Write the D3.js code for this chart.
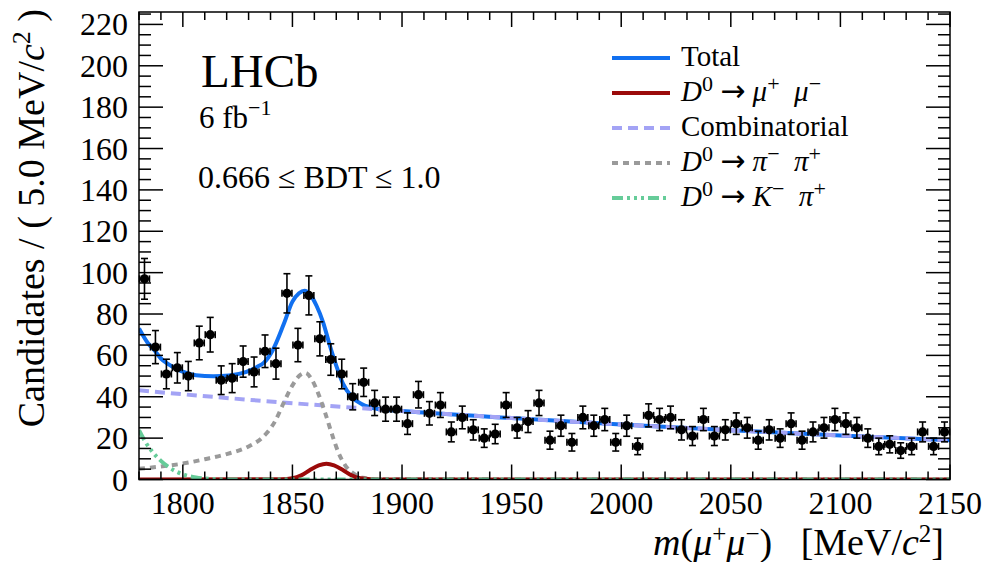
<!DOCTYPE html>
<html lang="en">
<head>
  <meta charset="UTF-8">
  <title>D0 to mu mu mass fit</title>
  <script src="https://d3js.org/d3.v7.min.js"></script>
  <style>
    body { margin: 0; background: #fff; }
    svg { display: block; font-family: "Liberation Serif", "DejaVu Serif", serif; }
    .tick-label { font-size: 32px; fill: #000; }
    .axis-title { font-size: 38px; fill: #000; }
    .legend text { font-size: 29px; fill: #000; }
  </style>
</head>
<body>
  <svg id="chart" width="985" height="562"></svg>
  <script>
    // binned data: 5 MeV bins from 1780 to 2150, bin centres 1782.5 ... 2147.5
    const binLow = 1780, binWidth = 5;
    const counts = [
      97, 64, 51, 54, 50, 66, 70, 48, 49, 57,
      52, 62, 56, 90, 65, 89, 68, 58, 51, 40,
      47, 37, 34, 34, 27, 41, 32, 36, 23, 30,
      24, 20, 22, 36, 25, 28, 37, 19, 26, 18,
      30, 26, 29, 18, 26, 16, 31, 29, 30, 24,
      21, 29, 21, 24, 27, 25, 19, 24, 20, 27,
      19, 23, 25, 29, 27, 25, 20, 16, 17, 14,
      16, 23, 16, 23
    ];

    // fit curves, sampled off the plot
    const totalMass = [1780, 1784, 1787, 1790, 1793, 1799, 1806, 1814, 1821, 1829, 1834, 1837, 1841, 1846, 1850, 1853, 1855.5, 1858, 1861, 1864, 1867, 1870, 1873, 1877, 1882, 1888, 1895, 1900, 1950, 2000, 2050, 2100, 2150];
    const totalVal  = [73, 66, 62.5, 58.5, 56, 52.5, 50.4, 49.9, 50.3, 52, 54.5, 56.5, 62.5, 75, 86, 90, 91.3, 89.5, 84, 76, 65, 55, 46.5, 40, 36.2, 34.3, 33.5, 33.1, 29.7, 26.6, 23.8, 21.3, 19.0];

    const combMass = [1780, 1800, 1850, 1900, 1950, 2000, 2050, 2100, 2150];
    const combVal  = [43.1, 41.2, 36.9, 33.1, 29.7, 26.6, 23.8, 21.3, 19.0];

    const pipiMass = [1780, 1790, 1800, 1810, 1820, 1830, 1836, 1842, 1846, 1850, 1853, 1856, 1859, 1862, 1865, 1868, 1871, 1874, 1878, 1882, 1890, 2150];
    const pipiVal  = [5.2, 6.3, 7.7, 9.8, 12.3, 16, 20, 28, 37, 45.5, 50, 51.5, 48, 41, 32, 22, 13, 7, 2.8, 0.8, 0.1, 0];

    const mumuMass = [1780, 1845, 1850, 1854, 1858, 1862, 1865.5, 1869, 1873, 1877, 1881, 1886, 1890, 2150];
    const mumuVal  = [0, 0.1, 0.6, 2.0, 4.6, 6.8, 7.6, 6.8, 4.6, 2.0, 0.6, 0.1, 0, 0];

    const kpiMass = [1780, 1783, 1786, 1790, 1795, 1800, 1806, 1812, 1820, 2150];
    const kpiVal  = [23.8, 18, 13.5, 9, 5, 2.5, 1, 0.3, 0, 0];

    const xMajor = [1800, 1850, 1900, 1950, 2000, 2050, 2100, 2150];
    const yMajor = [0, 20, 40, 60, 80, 100, 120, 140, 160, 180, 200, 220];

    const svg = d3.select("#chart");
    const pLeft = 139, pRight = 950, pTop = 12, pBottom = 479.5;

    const x = d3.scaleLinear().domain([1780, 2150]).range([pLeft, pRight]);
    const y = d3.scaleLinear().domain([0, 226]).range([pBottom, pTop]);

    svg.append("defs").append("clipPath").attr("id", "plotClip")
      .append("rect")
      .attr("x", pLeft).attr("y", pTop)
      .attr("width", pRight - pLeft).attr("height", pBottom - pTop);

    const curves = svg.append("g").attr("clip-path", "url(#plotClip)");
    const line = d3.line().x(d => x(d[0])).y(d => y(d[1])).curve(d3.curveMonotoneX);

    const series = [
      { mass: totalMass, val: totalVal, color: "#1170f0", dash: null },
      { mass: combMass, val: combVal, color: "#a3a3f5", dash: "10,6" },
      { mass: pipiMass, val: pipiVal, color: "#9a9a9a", dash: "6,5" },
      { mass: mumuMass, val: mumuVal, color: "#9b0a0a", dash: null },
      { mass: kpiMass, val: kpiVal, color: "#66cc99", dash: "11,4,3,4,3,4,3,4" }
    ];

    series.forEach(s => {
      curves.append("path")
        .datum(d3.zip(s.mass, s.val))
        .attr("fill", "none")
        .attr("stroke", s.color)
        .attr("stroke-width", 4)
        .attr("stroke-dasharray", s.dash)
        .attr("d", line);
    });

    // data points with errors
    const pts = svg.append("g");
    counts.forEach((n, i) => {
      const cx = x(binLow + binWidth * (i + 0.5));
      const cy = y(n);
      const err = Math.sqrt(n);
      const yHi = y(n + err), yLo = y(n - err);
      const xl = x(binLow + binWidth * i) + 0.5, xr = x(binLow + binWidth * (i + 1)) - 0.5;
      const g = pts.append("g").attr("stroke", "#000").attr("stroke-width", 1.6);
      g.append("line").attr("x1", cx).attr("x2", cx).attr("y1", yHi).attr("y2", yLo);
      g.append("line").attr("x1", cx - 3.5).attr("x2", cx + 3.5).attr("y1", yHi).attr("y2", yHi);
      g.append("line").attr("x1", cx - 3.5).attr("x2", cx + 3.5).attr("y1", yLo).attr("y2", yLo);
      g.append("line").attr("x1", xl).attr("x2", xr).attr("y1", cy).attr("y2", cy);
      g.append("line").attr("x1", xl).attr("x2", xl).attr("y1", cy - 3.5).attr("y2", cy + 3.5);
      g.append("line").attr("x1", xr).attr("x2", xr).attr("y1", cy - 3.5).attr("y2", cy + 3.5);
      pts.append("circle").attr("cx", cx).attr("cy", cy).attr("r", 4.6).attr("fill", "#000");
    });

    // frame and ticks on all four sides
    const frame = svg.append("g").attr("stroke", "#000").attr("stroke-width", 1.5);
    frame.append("rect")
      .attr("x", pLeft).attr("y", pTop)
      .attr("width", pRight - pLeft).attr("height", pBottom - pTop)
      .attr("fill", "none");

    const xMinor = d3.range(1780, 2151, 10).filter(v => !xMajor.includes(v));
    const yMinor = d3.range(0, 226, 5).filter(v => !yMajor.includes(v));

    xMajor.concat(xMinor).forEach(v => {
      const len = xMajor.includes(v) ? 15 : 8;
      frame.append("line").attr("x1", x(v)).attr("x2", x(v)).attr("y1", pBottom).attr("y2", pBottom - len);
      frame.append("line").attr("x1", x(v)).attr("x2", x(v)).attr("y1", pTop).attr("y2", pTop + len);
    });
    yMajor.concat(yMinor).forEach(v => {
      const len = yMajor.includes(v) ? 24 : 12;
      frame.append("line").attr("x1", pLeft).attr("x2", pLeft + len).attr("y1", y(v)).attr("y2", y(v));
      frame.append("line").attr("x1", pRight).attr("x2", pRight - len).attr("y1", y(v)).attr("y2", y(v));
    });

    svg.append("g").selectAll("text")
      .data(xMajor).join("text")
      .attr("class", "tick-label")
      .attr("x", d => x(d)).attr("y", 514)
      .attr("text-anchor", "middle")
      .text(d => d);

    svg.append("g").selectAll("text")
      .data(yMajor).join("text")
      .attr("class", "tick-label")
      .attr("x", 128).attr("y", d => y(d) + 11)
      .attr("text-anchor", "end")
      .text(d => d);

    // axis titles
    const xt = svg.append("text").attr("class", "axis-title")
      .attr("x", 944).attr("y", 555).attr("text-anchor", "end");
    xt.append("tspan").attr("font-style", "italic").text("m");
    xt.append("tspan").text("(");
    xt.append("tspan").attr("font-style", "italic").text("μ");
    xt.append("tspan").attr("font-size", "25px").attr("dy", -13).text("+");
    xt.append("tspan").attr("font-style", "italic").attr("dy", 13).text("μ");
    xt.append("tspan").attr("font-size", "25px").attr("dy", -13).text("−");
    xt.append("tspan").attr("dy", 13).text(")\u00a0\u00a0\u00a0[MeV/");
    xt.append("tspan").attr("font-style", "italic").text("c");
    xt.append("tspan").attr("font-size", "25px").attr("dy", -13).text("2");
    xt.append("tspan").attr("dy", 13).text("]");

    const yt = svg.append("text").attr("class", "axis-title")
      .attr("font-size", "40px")
      .attr("transform", "translate(44,9) rotate(-90)")
      .attr("text-anchor", "end");
    yt.append("tspan").text("Candidates / ( 5.0 MeV/");
    yt.append("tspan").attr("font-style", "italic").text("c");
    yt.append("tspan").attr("font-size", "26px").attr("dy", -14).text("2");
    yt.append("tspan").attr("dy", 14).text(" )");

    // labels in the plot
    svg.append("text").attr("x", 201).attr("y", 87).attr("font-size", "47px").text("LHCb");
    const lumi = svg.append("text").attr("x", 199).attr("y", 128).attr("font-size", "31px");
    lumi.append("tspan").text("6 fb");
    lumi.append("tspan").attr("font-size", "22px").attr("dy", -13).text("−1");
    svg.append("text").attr("x", 198).attr("y", 188).attr("font-size", "32px").text("0.666 ≤ BDT ≤ 1.0");

    // legend
    const legendItems = [
      { parts: [["Total", ""]], color: "#1170f0", dash: null },
      { parts: [["D", "i"], ["0", "sup"], ["\u00a0", ""], ["→", "arrow"], ["\u00a0", ""], ["μ", "i"], ["+", "sup"], ["\u00a0\u00a0", ""], ["μ", "i"], ["−", "sup"]], color: "#9b0a0a", dash: null },
      { parts: [["Combinatorial", ""]], color: "#a3a3f5", dash: "10,6" },
      { parts: [["D", "i"], ["0", "sup"], ["\u00a0", ""], ["→", "arrow"], ["\u00a0", ""], ["π", "i"], ["−", "sup"], ["\u00a0\u00a0", ""], ["π", "i"], ["+", "sup"]], color: "#9a9a9a", dash: "6,5" },
      { parts: [["D", "i"], ["0", "sup"], ["\u00a0", ""], ["→", "arrow"], ["\u00a0", ""], ["K", "i"], ["−", "sup"], ["\u00a0\u00a0", ""], ["π", "i"], ["+", "sup"]], color: "#66cc99", dash: "11,4,3,4,3,4,3,4" }
    ];
    const legend = svg.append("g").attr("class", "legend");
    legendItems.forEach((item, i) => {
      const by = 66 + i * 35;
      legend.append("line")
        .attr("x1", 612).attr("x2", 670).attr("y1", by - 8).attr("y2", by - 8)
        .attr("stroke", item.color).attr("stroke-width", 4)
        .attr("stroke-dasharray", item.dash);
      const t = legend.append("text").attr("x", 681).attr("y", by);
      let raised = false;
      item.parts.forEach(([s, kind]) => {
        const ts = t.append("tspan").text(s);
        if (kind === "i") ts.attr("font-style", "italic");
        if (kind === "arrow") ts.attr("font-family", "DejaVu Sans").attr("font-size", "30px");
        if (kind === "sup") {
          ts.attr("font-size", "22px").attr("dy", raised ? 0 : -10);
          raised = true;
        } else if (raised) {
          ts.attr("dy", 10);
          raised = false;
        }
      });
    });
  </script>
</body>
</html>
